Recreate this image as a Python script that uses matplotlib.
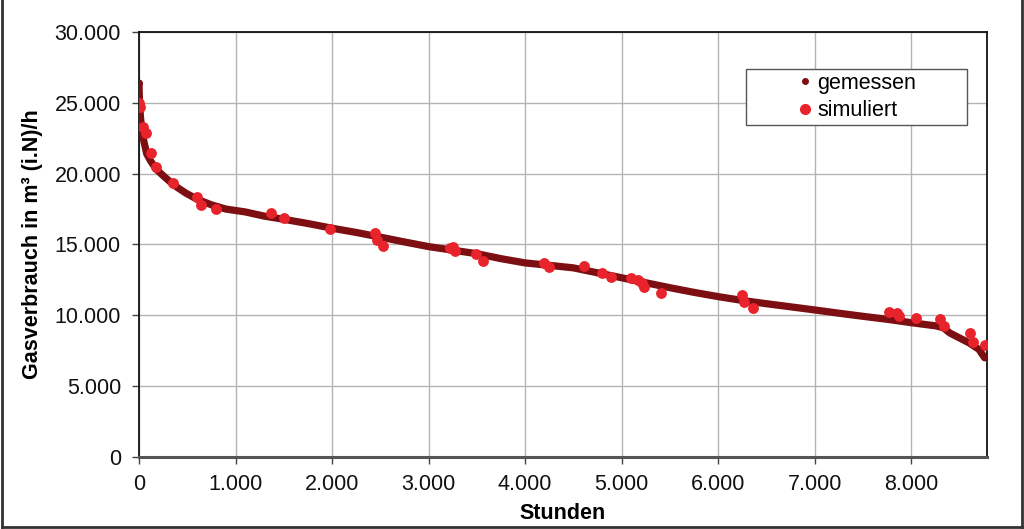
import matplotlib
matplotlib.use("Agg")
import matplotlib.pyplot as plt
from matplotlib.lines import Line2D
from matplotlib.patches import Rectangle
from matplotlib.ticker import FuncFormatter, MultipleLocator

plt.rcParams['font.family'] = ['Liberation Sans', 'DejaVu Sans']

# measured load duration curve (hours sorted, m3/h)
gemessen_h = [0, 3, 8, 15, 30, 50, 80, 120, 180, 260, 360, 480, 600, 750, 900,
              1100, 1300, 1500, 1750, 2000, 2250, 2500, 2750, 3000, 3250, 3500,
              3750, 4000, 4250, 4500, 4750, 5000, 5250, 5500, 5750, 6000, 6250,
              6500, 6750, 7000, 7250, 7500, 7750, 8000, 8250, 8330, 8400, 8500,
              8600, 8700, 8760]
gemessen_v = [26400, 25500, 24800, 24000, 23100, 22300, 21400, 20900, 20300, 19800,
              19200, 18650, 18200, 17800, 17500, 17300, 17000, 16780, 16480, 16150,
              15850, 15520, 15180, 14850, 14600, 14350, 14000, 13700, 13530, 13350,
              13000, 12650, 12300, 11950, 11620, 11320, 11050, 10820, 10600, 10380,
              10150, 9930, 9720, 9480, 9260, 9130, 8750, 8400, 8050, 7600, 7000]

# simulated points
simuliert_h = [5, 10, 38, 69, 121, 173, 349, 598, 642, 798, 1365, 1506, 1979, 2446,
               2470, 2532, 3223, 3251, 3275, 3492, 3568, 4197, 4242, 4611, 4795,
               4888, 5095, 5164, 5209, 5233, 5409, 6245, 6269, 6359, 7772, 7852,
               7876, 8052, 8293, 8335, 8604, 8635, 8760]
simuliert_v = [25000, 24680, 23320, 22850, 21480, 20490, 19320, 18370, 17790, 17480,
               17200, 16850, 16070, 15830, 15320, 14890, 14730, 14800, 14560, 14330,
               13860, 13720, 13430, 13480, 13010, 12680, 12610, 12490, 12260, 12020,
               11600, 11440, 10960, 10500, 10260, 10140, 9980, 9790, 9720, 9270,
               8730, 8100, 7910]

x_max = 8784
y_max = 30000

c_meas = '#7d0f12'
c_sim = '#e8232b'
fs = 15.5

fig = plt.figure(figsize=(10.24, 5.29), dpi=100)
ax = fig.add_axes([139/1024, 1-457/529, 848/1024, 425/529])

ax.plot(gemessen_h, gemessen_v, color=c_meas, lw=5.2, solid_capstyle='round',
        solid_joinstyle='round', zorder=3)
ax.plot(gemessen_h[:4], gemessen_v[:4], 'o', color=c_meas, ms=4, zorder=3)
ax.plot(simuliert_h, simuliert_v, 'o', color=c_sim, ms=7.8, mec='none', zorder=4)

ax.set_xlim(0, x_max)
ax.set_ylim(0, y_max)
ax.xaxis.set_major_locator(MultipleLocator(1000))
ax.yaxis.set_major_locator(MultipleLocator(5000))
fmt = FuncFormatter(lambda v, p: f"{int(v):,}".replace(",", "."))
ax.xaxis.set_major_formatter(fmt)
ax.yaxis.set_major_formatter(fmt)
ax.grid(True, color='#b4b4b4', lw=1)
ax.set_axisbelow(True)
ax.tick_params(axis='both', labelsize=fs, direction='out', length=5, width=1,
               color='#444444', labelcolor='#111111')
ax.tick_params(axis='y', pad=8)
ax.tick_params(axis='x', pad=7)
for s in ['top', 'right', 'left']:
    ax.spines[s].set_color('#111111')
    ax.spines[s].set_linewidth(1.3)
ax.spines['bottom'].set_color('#555555')
ax.spines['bottom'].set_linewidth(2.2)

ax.set_xlabel('Stunden', fontsize=fs, fontweight='bold', labelpad=6)
ax.set_ylabel('Gasverbrauch in m³ (i.N)/h', fontsize=fs, fontweight='bold', labelpad=8)

# legend
handles = [Line2D([], [], ls='none', marker='o', color=c_meas, ms=4),
           Line2D([], [], ls='none', marker='o', color=c_sim, ms=8, mec='none')]
leg = ax.legend(handles, ['gemessen', 'simuliert'], loc='center',
                bbox_to_anchor=((858-139)/848, (457-97)/425), frameon=False,
                fontsize=fs, handlelength=0.5, handletextpad=0.3, labelspacing=0.3)
ax.add_patch(Rectangle(((746-139)/848, (457-125)/425), 221/848, 56/425,
                       transform=ax.transAxes, fill=True, fc='white', ec='#555555',
                       lw=1, zorder=5))
leg.set_zorder(6)

# figure border
fig.add_artist(Line2D([0.002, 0.002], [0.004, 1.0], color='#333333', lw=2, transform=fig.transFigure))
fig.add_artist(Line2D([0.002, 0.998], [0.004, 0.004], color='#333333', lw=2, transform=fig.transFigure))
fig.add_artist(Line2D([0.998, 0.998], [0.004, 1.0], color='#333333', lw=2, transform=fig.transFigure))

fig.savefig('out.png', dpi=100)
